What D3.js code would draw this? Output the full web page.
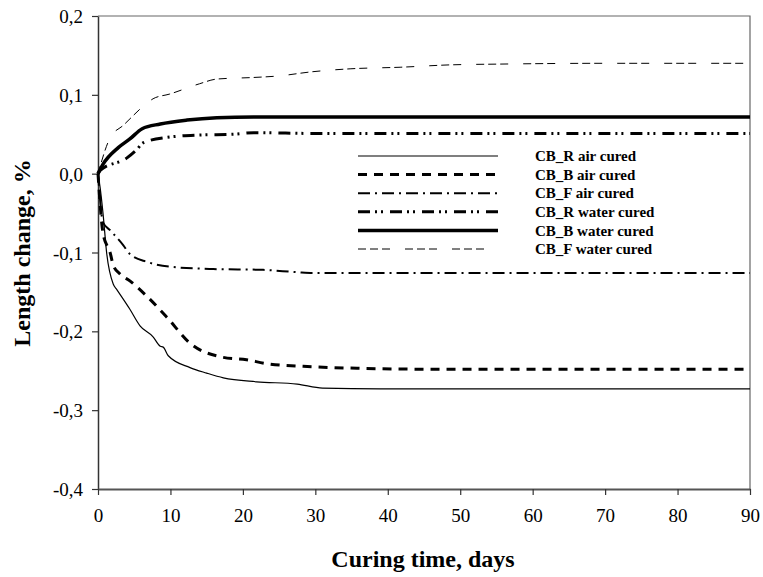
<!DOCTYPE html>
<html>
<head>
<meta charset="utf-8">
<script src="https://cdn.jsdelivr.net/npm/d3@7"></script>
<style>
  html, body { margin: 0; padding: 0; background: #fff; }
  svg { display: block; }
  text { font-family: "Liberation Serif", "Times New Roman", serif; fill: #000; }
</style>
</head>
<body>
<svg id="chart" width="763" height="577"></svg>
<script>
// Length change (%) against curing time (days)
const seriesNames = ["CB_R air cured", "CB_B air cured", "CB_F air cured",
                     "CB_R water cured", "CB_B water cured", "CB_F water cured"];

const cbRAirDays = [0, 0.3, 0.7, 1.2, 2.1, 2.6, 4.4, 5.8, 7.6, 8.6, 9.0, 9.7, 12.7, 15, 17.3, 21.9, 27.5, 31, 39, 50, 60, 70, 80, 90];
const cbRAirVals = [0, -0.018, -0.051, -0.101, -0.140, -0.147, -0.172, -0.193, -0.207, -0.219, -0.220, -0.231, -0.246, -0.253, -0.259, -0.264, -0.267, -0.272, -0.273, -0.273, -0.273, -0.273, -0.273, -0.273];

const cbBAirDays = [0, 0.7, 1.7, 2.1, 3, 4.4, 6.8, 9.5, 12.7, 17.3, 20.5, 23.3, 29.7, 36.6, 45, 60, 75, 90];
const cbBAirVals = [0, -0.076, -0.101, -0.116, -0.127, -0.136, -0.156, -0.182, -0.215, -0.233, -0.236, -0.241, -0.245, -0.247, -0.248, -0.248, -0.248, -0.248];

const cbFAirDays = [0, 0.7, 1.7, 2.1, 3.5, 4.4, 6.8, 9.9, 15.9, 22.8, 27.5, 29.7, 40, 60, 75, 90];
const cbFAirVals = [0, -0.062, -0.072, -0.076, -0.091, -0.102, -0.112, -0.118, -0.121, -0.122, -0.125, -0.126, -0.126, -0.126, -0.126, -0.126];

const cbRWaterDays = [0, 0.3, 4, 5.4, 6.2, 9.5, 14, 18.7, 21.5, 30, 45, 60, 75, 90];
const cbRWaterVals = [0, 0.004, 0.020, 0.031, 0.039, 0.046, 0.049, 0.050, 0.052, 0.051, 0.051, 0.051, 0.051, 0.051];

const cbBWaterDays = [0, 0.7, 2.8, 4.4, 6.1, 8.6, 12.3, 16.4, 21.5, 30, 45, 60, 75, 90];
const cbBWaterVals = [0, 0.012, 0.033, 0.044, 0.057, 0.063, 0.068, 0.071, 0.072, 0.072, 0.072, 0.072, 0.072, 0.072];

const cbFWaterDays = [0, 1.7, 3.45, 6.7, 7.6, 9.9, 14, 16.4, 21.4, 25, 29.3, 34.8, 41.7, 48.6, 55.5, 70, 90];
const cbFWaterVals = [0, 0.046, 0.061, 0.089, 0.095, 0.101, 0.114, 0.120, 0.122, 0.124, 0.129, 0.133, 0.135, 0.138, 0.139, 0.140, 0.140];

const xTicks = [0, 10, 20, 30, 40, 50, 60, 70, 80, 90];
const yTicks = [0.2, 0.1, 0.0, -0.1, -0.2, -0.3, -0.4];

const seriesData = [
  [cbRAirDays, cbRAirVals], [cbBAirDays, cbBAirVals], [cbFAirDays, cbFAirVals],
  [cbRWaterDays, cbRWaterVals], [cbBWaterDays, cbBWaterVals], [cbFWaterDays, cbFWaterVals]
];

// Stroke style per series
const styles = [
  { w: 1.2, dash: null },
  { w: 3,   dash: "9,7" },
  { w: 2,   dash: "12,5,2,5" },
  { w: 3,   dash: "12,5,2,4,2,7" },
  { w: 3.5, dash: null },
  { w: 1,   dash: "8,4,8,4,8,15" }
];

const SERIF = "'Liberation Serif', 'Times New Roman', serif";

const svg = d3.select("#chart");
const plotLeft = 98, plotRight = 750, plotTop = 16, plotBottom = 489;

const x = d3.scaleLinear().domain([0, 90]).range([plotLeft, plotRight]);
const y = d3.scaleLinear().domain([-0.4, 0.2]).range([plotBottom, plotTop]);

const fmt = d => d3.format(".1f")(d).replace(".", ",").replace("−", "-");

// Frame: top and right edges
svg.append("path")
  .attr("d", `M${plotLeft},${plotTop}H${plotRight}V${plotBottom}`)
  .attr("fill", "none").attr("stroke", "#666").attr("stroke-width", 1.2);

// Y axis
const yAxis = svg.append("g").attr("transform", `translate(${plotLeft},0)`)
  .call(d3.axisLeft(y).tickValues(yTicks).tickSize(6).tickSizeOuter(0).tickFormat(fmt));
yAxis.attr("font-family", SERIF).attr("font-size", 19);
yAxis.select(".domain").attr("stroke", "#333").attr("stroke-width", 1.5);
yAxis.selectAll(".tick line").attr("stroke", "#333").attr("stroke-width", 1.2);
yAxis.selectAll(".tick text")
  .attr("x", -15).attr("dy", "0.35em").attr("fill", "#000");

// X axis
const xAxis = svg.append("g").attr("transform", `translate(0,${plotBottom})`)
  .call(d3.axisBottom(x).tickValues(xTicks).tickSize(6).tickSizeOuter(0).tickFormat(d3.format("d")));
xAxis.attr("font-family", SERIF).attr("font-size", 19);
xAxis.select(".domain").attr("stroke", "#555").attr("stroke-width", 2);
xAxis.selectAll(".tick line").attr("stroke", "#333").attr("stroke-width", 1.2);
xAxis.selectAll(".tick text").attr("y", 20).attr("fill", "#000");

// Series lines
const line = d3.line().curve(d3.curveMonotoneX);
seriesData.forEach(([days, vals], i) => {
  const pts = days.map((d, j) => [x(d), y(vals[j])]);
  svg.append("path")
    .attr("d", line(pts))
    .attr("fill", "none")
    .attr("stroke", "#000")
    .attr("stroke-width", styles[i].w)
    .attr("stroke-dasharray", styles[i].dash);
});

// Legend
const legend = svg.append("g").attr("font-family", SERIF);
seriesNames.forEach((name, i) => {
  const ly = 156 + i * 18.6;
  legend.append("line")
    .attr("x1", 358).attr("x2", 498).attr("y1", ly).attr("y2", ly)
    .attr("stroke", "#000")
    .attr("stroke-width", styles[i].w)
    .attr("stroke-dasharray", styles[i].dash);
  legend.append("text")
    .attr("x", 535).attr("y", ly).attr("dy", "0.35em")
    .attr("font-size", 15).attr("font-weight", "bold")
    .text(name);
});

// Axis titles
svg.append("text")
  .attr("x", 423).attr("y", 567).attr("text-anchor", "middle")
  .attr("font-family", SERIF).attr("font-size", 24).attr("font-weight", "bold")
  .text("Curing time, days");

svg.append("text")
  .attr("transform", "translate(30,253) rotate(-90)")
  .attr("text-anchor", "middle")
  .attr("font-family", SERIF).attr("font-size", 24).attr("font-weight", "bold")
  .text("Length change, %");
</script>
</body>
</html>
